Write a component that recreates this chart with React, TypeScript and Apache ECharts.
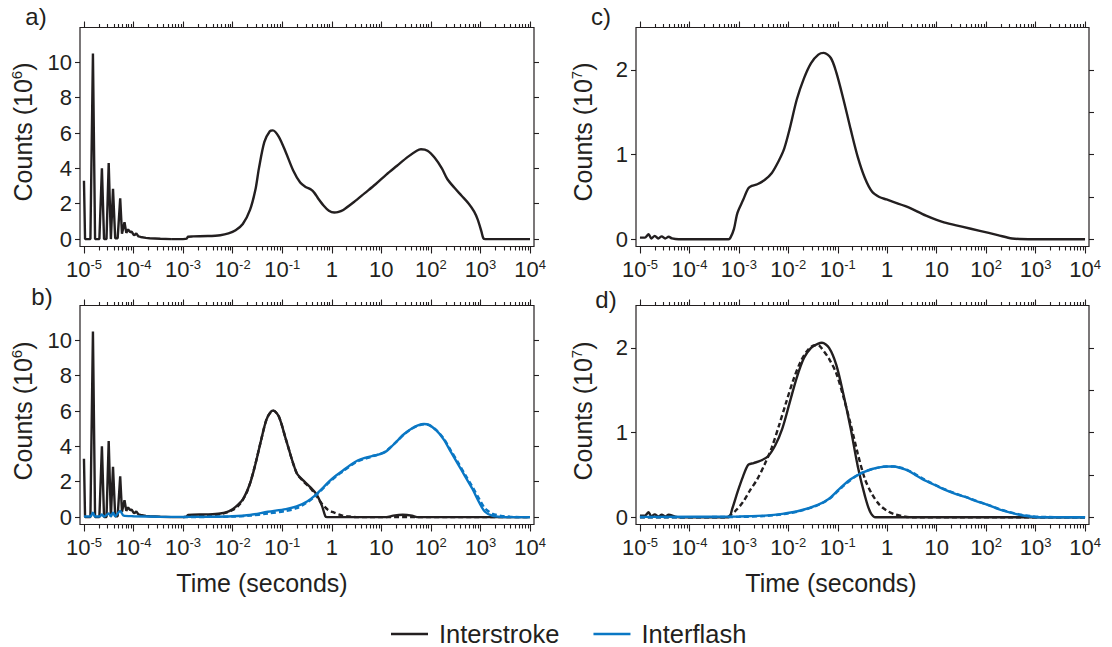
import React, { useEffect, useRef } from "react";
import * as echarts from "echarts";

const INK = "#231f20";
const BLUE = "#0a77c4";
const FONT = "'Liberation Sans', Arial, Helvetica, sans-serif";

// x values are log10(time in seconds)
const xMajorTicks = [-5, -4, -3, -2, -1, 0, 1, 2, 3, 4];
const xTickBase = ["10", "10", "10", "10", "10", "1", "10", "10", "10", "10"];
const xTickExp = ["-5", "-4", "-3", "-2", "-1", "", "", "2", "3", "4"];
const xMinorMantissa = [2, 3, 4, 5, 6, 7, 8, 9];
const xMinorDecades = [-5, -4, -3, -2, -1, 0, 1, 2, 3];

const yTicksAB = [0, 2, 4, 6, 8, 10];
const yTicksCD = [0, 0.5, 1, 1.5, 2];
const yLabelsCD = [0, 1, 2];

// Interstroke: sampling spikes at the shortest times (panels a, b)
const spikeX = [-5.0, -4.978, -4.87, -4.819, -4.776, -4.689, -4.638, -4.595, -4.545, -4.501, -4.457, -4.414, -4.37, -4.32, -4.269, -4.233, -4.182, -4.146, -4.11, -4.07, -4.038, -4.0, -3.98, -3.944, -3.9, -3.857, -3.75, -3.676, -3.459, -3.242];
const spikeY = [3.3, 0, 0, 10.5, 0, 0, 4.0, 0, 0, 4.3, 0, 2.85, 0.05, 0.05, 2.3, 0.3, 0.95, 0.35, 0.55, 0.4, 0.42, 0.25, 0.22, 0.32, 0.15, 0.12, 0.07, 0.05, 0.02, 0];

// Panel a: interstroke (10^6 counts)
const aX = [-3.242, -3.0, -2.93, -2.9, -2.8, -2.5, -2.25, -2.084, -1.94, -1.795, -1.65, -1.54, -1.47, -1.36, -1.25, -1.19, -1.071, -0.926, -0.781, -0.637, -0.528, -0.42, -0.347, -0.275, -0.166, -0.058, 0.05, 0.12, 0.232, 0.449, 0.666, 0.883, 1.1, 1.317, 1.534, 1.715, 1.8, 1.932, 2.077, 2.221, 2.33, 2.475, 2.62, 2.764, 2.873, 2.945, 3.017, 3.06, 3.1, 4.0];
const aY = [0, 0, 0.02, 0.13, 0.15, 0.17, 0.22, 0.32, 0.5, 0.85, 1.65, 2.8, 4.0, 5.5, 6.1, 6.15, 5.8, 4.9, 3.9, 3.2, 2.95, 2.8, 2.6, 2.3, 1.9, 1.6, 1.5, 1.52, 1.65, 2.1, 2.6, 3.1, 3.65, 4.15, 4.65, 5.0, 5.08, 5.0, 4.6, 4.0, 3.4, 2.9, 2.45, 2.0, 1.55, 1.1, 0.45, 0.03, 0, 0];

// Panel b: interstroke, fit, interflash, fit (10^6 counts)
const bStrokeX = [-3.242, -3.0, -2.93, -2.9, -2.5, -2.25, -2.08, -1.94, -1.795, -1.65, -1.54, -1.43, -1.32, -1.216, -1.18, -1.07, -0.926, -0.71, -0.565, -0.42, -0.31, -0.2, -0.13, -0.094, 1.1, 1.24, 1.43, 1.62, 1.72, 4.0];
const bStrokeY = [0, 0, 0.02, 0.12, 0.15, 0.2, 0.32, 0.58, 1.0, 1.9, 3.0, 4.3, 5.5, 6.0, 6.02, 5.7, 4.4, 2.5, 2.05, 1.65, 1.3, 0.65, 0.05, 0, 0, 0.08, 0.13, 0.08, 0, 0];
const bStrokeFitX = [-3.0, -2.5, -2.2, -2.0, -1.85, -1.7, -1.56, -1.43, -1.32, -1.216, -1.18, -1.07, -0.926, -0.71, -0.565, -0.42, -0.31, -0.2, -0.08, 0.05, 0.2, 0.35, 0.5, 4.0];
const bStrokeFitY = [0, 0.08, 0.2, 0.4, 0.75, 1.5, 2.8, 4.3, 5.5, 6.0, 6.02, 5.7, 4.4, 2.5, 2.0, 1.6, 1.2, 0.75, 0.42, 0.25, 0.1, 0.03, 0, 0];
const bFlashX = [-5.0, -4.87, -4.819, -4.776, -4.689, -4.638, -4.595, -4.501, -4.457, -4.414, -4.37, -4.269, -4.2, -4.0, -3.5, -3.0, -2.5, -2.01, -1.65, -1.29, -0.926, -0.71, -0.49, -0.347, -0.2, -0.058, 0.087, 0.232, 0.376, 0.52, 0.666, 0.81, 0.955, 1.064, 1.172, 1.317, 1.46, 1.606, 1.75, 1.86, 1.968, 2.11, 2.257, 2.4, 2.547, 2.69, 2.836, 2.98, 3.09, 3.234, 3.415, 3.6, 4.0];
const bFlashY = [0.03, 0.03, 0.25, 0.03, 0.03, 0.15, 0.03, 0.2, 0.05, 0.25, 0.05, 0.35, 0.08, 0.05, 0.02, 0.01, 0.02, 0.05, 0.12, 0.3, 0.45, 0.6, 0.9, 1.2, 1.6, 2.0, 2.35, 2.65, 2.95, 3.2, 3.35, 3.45, 3.55, 3.65, 3.9, 4.3, 4.7, 5.0, 5.2, 5.27, 5.2, 4.9, 4.4, 3.7, 3.0, 2.3, 1.6, 0.8, 0.3, 0.08, 0.01, 0, 0];
const bFlashFitX = [-3.0, -2.5, -2.0, -1.65, -1.29, -0.926, -0.71, -0.49, -0.347, -0.2, -0.058, 0.087, 0.232, 0.376, 0.52, 0.666, 0.81, 0.955, 1.064, 1.172, 1.317, 1.46, 1.606, 1.75, 1.86, 1.968, 2.11, 2.257, 2.4, 2.547, 2.69, 2.836, 2.98, 3.09, 3.234, 3.415, 3.6, 3.8, 4.0];
const bFlashFitY = [0, 0.01, 0.03, 0.08, 0.2, 0.35, 0.5, 0.85, 1.15, 1.55, 1.95, 2.3, 2.6, 2.9, 3.15, 3.3, 3.42, 3.55, 3.68, 3.92, 4.3, 4.68, 4.98, 5.18, 5.25, 5.2, 4.92, 4.45, 3.78, 3.1, 2.4, 1.72, 1.0, 0.5, 0.2, 0.07, 0.02, 0, 0];

// Panel c: interstroke (10^7 counts)
const cX = [-5.0, -4.9, -4.826, -4.77, -4.7, -4.63, -4.56, -4.49, -4.42, -4.35, -4.22, -3.208, -3.17, -3.1, -3.03, -2.917, -2.81, -2.74, -2.627, -2.48, -2.337, -2.19, -2.083, -1.974, -1.829, -1.684, -1.54, -1.393, -1.284, -1.14, -1.03, -0.885, -0.74, -0.595, -0.45, -0.305, -0.16, -0.014, 0.42, 0.784, 1.147, 1.51, 1.872, 2.235, 2.525, 2.96, 4.0];
const cY = [0.02, 0.02, 0.06, 0.01, 0.04, 0.01, 0.035, 0.01, 0.03, 0.01, 0, 0, 0.02, 0.12, 0.31, 0.46, 0.6, 0.63, 0.65, 0.7, 0.78, 0.93, 1.07, 1.3, 1.65, 1.9, 2.08, 2.18, 2.2, 2.14, 1.97, 1.65, 1.3, 0.97, 0.72, 0.56, 0.5, 0.47, 0.38, 0.28, 0.2, 0.15, 0.1, 0.05, 0.01, 0, 0];

// Panel d: interstroke, fit, interflash, fit (10^7 counts)
const dStrokeX = [-5.0, -4.9, -4.826, -4.77, -4.7, -4.63, -4.56, -4.49, -4.42, -4.3, -4.2, -3.21, -3.135, -3.026, -2.917, -2.81, -2.7, -2.554, -2.41, -2.264, -2.12, -1.974, -1.829, -1.684, -1.54, -1.393, -1.32, -1.176, -1.03, -0.885, -0.74, -0.595, -0.45, -0.341, -0.232, 4.0];
const dStrokeY = [0.02, 0.02, 0.06, 0.01, 0.035, 0.01, 0.03, 0.01, 0.03, 0.01, 0, 0, 0.1, 0.3, 0.48, 0.62, 0.64, 0.67, 0.72, 0.85, 1.05, 1.35, 1.65, 1.88, 2.0, 2.05, 2.06, 2.0, 1.8, 1.45, 1.05, 0.6, 0.25, 0.06, 0, 0];
const dStrokeFitX = [-5.0, -3.28, -3.21, -3.062, -2.917, -2.772, -2.627, -2.482, -2.337, -2.19, -2.047, -1.9, -1.757, -1.612, -1.467, -1.393, -1.32, -1.176, -1.03, -0.885, -0.74, -0.595, -0.45, -0.305, -0.16, -0.014, 0.13, 0.348, 0.493, 4.0];
const dStrokeFitY = [0, 0, 0.01, 0.08, 0.18, 0.32, 0.45, 0.62, 0.82, 1.08, 1.35, 1.62, 1.83, 1.97, 2.03, 2.03, 1.99, 1.87, 1.7, 1.42, 1.1, 0.75, 0.45, 0.27, 0.15, 0.08, 0.04, 0.01, 0, 0];
const dFlashX = [-5.0, -3.0, -2.48, -2.12, -1.757, -1.393, -1.176, -1.03, -0.885, -0.74, -0.595, -0.45, -0.305, -0.16, -0.014, 0.13, 0.276, 0.42, 0.566, 0.711, 0.856, 1.0, 1.147, 1.364, 1.582, 1.8, 2.017, 2.235, 2.453, 2.67, 2.888, 3.1, 4.0];
const dFlashY = [0.005, 0.01, 0.02, 0.04, 0.08, 0.15, 0.22, 0.3, 0.38, 0.45, 0.5, 0.54, 0.57, 0.59, 0.6, 0.6, 0.58, 0.55, 0.5, 0.45, 0.41, 0.37, 0.33, 0.28, 0.24, 0.19, 0.15, 0.1, 0.06, 0.03, 0.01, 0, 0];
const dFlashFitY = [0, 0.005, 0.015, 0.035, 0.075, 0.145, 0.215, 0.29, 0.37, 0.44, 0.5, 0.54, 0.57, 0.59, 0.6, 0.6, 0.585, 0.555, 0.51, 0.46, 0.415, 0.375, 0.335, 0.285, 0.24, 0.195, 0.15, 0.105, 0.065, 0.035, 0.015, 0.005, 0];

const panelLetters = ["a)", "b)", "c)", "d)"];
const yExponent = ["6", "6", "7", "7"];

const xMinorTicks: number[] = [];
xMinorDecades.forEach((k) => xMinorMantissa.forEach((m) => xMinorTicks.push(k + Math.log10(m))));

const zip = (xs: number[], ys: number[]) => xs.map((x, i) => [x, ys[i]]);

const GRIDS = [
  { left: 80, top: 27.5, width: 454, height: 219 },
  { left: 80, top: 305.5, width: 454, height: 219 },
  { left: 636, top: 27.5, width: 453, height: 219 },
  { left: 636, top: 305.5, width: 453, height: 219 },
];
const Y_RANGE = [
  [-0.42, 11.97],
  [-0.42, 11.97],
  [-0.085, 2.5],
  [-0.085, 2.5],
];
const X_MIN = -5.08;
const X_MAX = 4.08;

function buildOption() {
  const tickLine = { color: INK, width: 1.1 };
  const xAxes: any[] = [];
  const yAxes: any[] = [];
  GRIDS.forEach((_, g) => {
    const base = { gridIndex: g, type: "value", min: X_MIN, max: X_MAX, axisLine: { show: false, onZero: false }, splitLine: { show: false } };
    xAxes.push({
      ...base,
      position: "bottom",
      axisTick: { show: true, length: 7, lineStyle: tickLine, customValues: xMajorTicks },
      axisLabel: {
        show: true,
        customValues: xMajorTicks,
        margin: 11,
        formatter: (v: number) => {
          const i = xMajorTicks.indexOf(Math.round(v));
          const e = xTickExp[i];
          return e ? `{b|${xTickBase[i]}}{s|${e}}` : `{b|${xTickBase[i]}}`;
        },
        rich: {
          b: { fontSize: 22, lineHeight: 24, fontFamily: FONT, color: INK },
          s: { fontSize: 13, lineHeight: 14, verticalAlign: "top", fontFamily: FONT, color: INK },
        },
      },
    });
    xAxes.push({ ...base, position: "bottom", axisTick: { show: true, length: 4, lineStyle: tickLine, customValues: xMinorTicks }, axisLabel: { show: false } });
    xAxes.push({ ...base, position: "top", axisTick: { show: true, length: 6, lineStyle: tickLine, customValues: xMajorTicks }, axisLabel: { show: false } });
    xAxes.push({ ...base, position: "top", axisTick: { show: true, length: 3.5, lineStyle: tickLine, customValues: xMinorTicks }, axisLabel: { show: false } });

    const ticks = g < 2 ? yTicksAB : yTicksCD;
    const labels = g < 2 ? yTicksAB : yLabelsCD;
    const ybase = { gridIndex: g, type: "value", min: Y_RANGE[g][0], max: Y_RANGE[g][1], axisLine: { show: false, onZero: false }, splitLine: { show: false } };
    yAxes.push({
      ...ybase,
      position: "left",
      axisTick: { show: true, length: 5, lineStyle: tickLine, customValues: labels },
      axisLabel: { show: true, customValues: labels, margin: 8, fontSize: 22, fontFamily: FONT, color: INK },
    });
    yAxes.push({
      ...ybase,
      position: "right",
      axisTick: { show: true, length: 5, lineStyle: tickLine, customValues: ticks },
      axisLabel: { show: false },
    });
  });

  const line = (g: number, xs: number[], ys: number[], color: string, name: string, dashed = false, smooth: number | boolean = 0.3, z = 3) => ({
    type: "line",
    name,
    xAxisIndex: g * 4,
    yAxisIndex: g * 2,
    data: zip(xs, ys),
    symbol: "none",
    showSymbol: false,
    smooth,
    silent: true,
    z,
    itemStyle: { color },
    lineStyle: { color, width: 2.4, type: dashed ? [5, 3] : "solid" },
  });

  const series = [
    line(0, spikeX, spikeY, INK, "Interstroke", false, false),
    line(0, aX, aY, INK, "Interstroke"),
    line(1, spikeX, spikeY, INK, "Interstroke", false, false),
    line(1, bStrokeX, bStrokeY, INK, "Interstroke"),
    line(1, bStrokeFitX, bStrokeFitY, INK, "Interstroke fit", true, 0.3, 2),
    line(1, bFlashX, bFlashY, BLUE, "Interflash", false, 0.3, 4),
    line(1, bFlashFitX, bFlashFitY, BLUE, "Interflash fit", true, 0.3, 4),
    line(2, cX, cY, INK, "Interstroke"),
    line(3, dStrokeX, dStrokeY, INK, "Interstroke"),
    line(3, dStrokeFitX, dStrokeFitY, INK, "Interstroke fit", true, 0.3, 2),
    line(3, dFlashX, dFlashY, BLUE, "Interflash", false, 0.3, 4),
    line(3, dFlashX, dFlashFitY, BLUE, "Interflash fit", true, 0.3, 4),
  ];

  const titleRich = {
    m: { fontSize: 25, lineHeight: 28, fontFamily: FONT, fill: INK, color: INK },
    s: { fontSize: 15, lineHeight: 15, verticalAlign: "top", fontFamily: FONT, fill: INK, color: INK },
  };
  const yTitlePos = [
    [23, 132],
    [23, 411],
    [583, 132],
    [583, 411],
  ];
  const letterPos = [
    [36, 16],
    [42, 296],
    [601, 16],
    [606, 299],
  ];
  const graphic: any[] = [];
  GRIDS.forEach((_, g) => {
    graphic.push({
      type: "text",
      x: yTitlePos[g][0],
      y: yTitlePos[g][1],
      rotation: Math.PI / 2,
      silent: true,
      style: { text: `{m|Counts (10}{s|${yExponent[g]}}{m|)}`, rich: titleRich, align: "center", verticalAlign: "middle", fill: INK },
    });
    graphic.push({
      type: "text",
      x: letterPos[g][0],
      y: letterPos[g][1],
      silent: true,
      style: { text: panelLetters[g], fontSize: 24, fontFamily: FONT, fill: INK, align: "center", verticalAlign: "middle" },
    });
  });
  [262, 831].forEach((cx) =>
    graphic.push({
      type: "text",
      x: cx,
      y: 583,
      silent: true,
      style: { text: "Time (seconds)", fontSize: 25, fontFamily: FONT, fill: INK, align: "center", verticalAlign: "middle" },
    })
  );

  return {
    animation: false,
    backgroundColor: "#ffffff",
    grid: GRIDS.map((r) => ({ ...r, show: true, borderColor: INK, borderWidth: 1.2, backgroundColor: "transparent", containLabel: false, outerBoundsMode: "none" })),
    xAxis: xAxes,
    yAxis: yAxes,
    legend: {
      data: ["Interstroke", "Interflash"],
      left: 386,
      top: 616,
      icon: "rect",
      itemWidth: 37,
      itemHeight: 2.5,
      itemGap: 34,
      selectedMode: false,
      textStyle: { fontSize: 25.5, fontFamily: FONT, color: INK, padding: [0, 0, 0, 6] },
    },
    series,
    graphic,
  };
}

export default function App() {
  const ref = useRef<HTMLDivElement>(null);
  useEffect(() => {
    if (!ref.current) return;
    const chart = echarts.init(ref.current, undefined, { renderer: "svg" });
    chart.setOption(buildOption() as any);
    return () => chart.dispose();
  }, []);
  return <div ref={ref} style={{ position: "fixed", left: 0, top: 0, width: 1112, height: 647, background: "#fff" }} />;
}
